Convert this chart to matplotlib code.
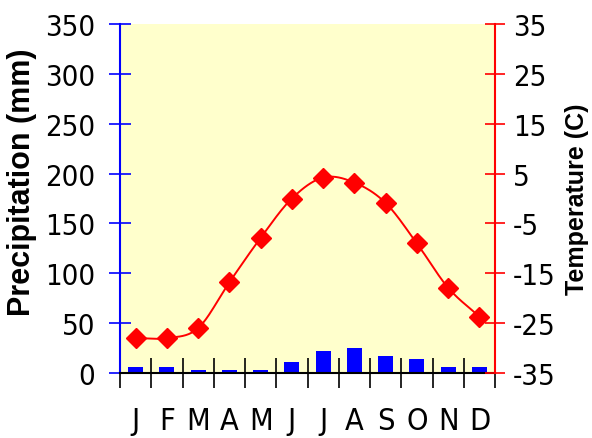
import numpy as np
import matplotlib
matplotlib.use("Agg")
import matplotlib.pyplot as plt

months = ["J", "F", "M", "A", "M", "J", "J", "A", "S", "O", "N", "D"]
precip_mm = [6, 6, 3, 3, 3, 11, 22, 25, 17, 14, 6, 6]
temp_c = [-28, -28, -26, -16.8, -7.9, 0, 4.2, 3.2, -0.9, -9, -17.9, -23.7]

plt.rcParams["axes.unicode_minus"] = False


def smooth(x, y, n=20):
    # catmull-rom through the points, like a spreadsheet "smoothed line"
    x = np.asarray(x, float)
    y = np.asarray(y, float)
    px = np.concatenate([[2 * x[0] - x[1]], x, [2 * x[-1] - x[-2]]])
    py = np.concatenate([[2 * y[0] - y[1]], y, [2 * y[-1] - y[-2]]])
    t = np.linspace(0, 1, n, endpoint=False)
    xs, ys = [], []
    for i in range(1, len(px) - 2):
        for p, out in ((px, xs), (py, ys)):
            p0, p1, p2, p3 = p[i - 1], p[i], p[i + 1], p[i + 2]
            out.extend(0.5 * (2 * p1 + (-p0 + p2) * t
                              + (2 * p0 - 5 * p1 + 4 * p2 - p3) * t ** 2
                              + (-p0 + 3 * p1 - 3 * p2 + p3) * t ** 3))
    xs.append(x[-1])
    ys.append(y[-1])
    return np.array(xs), np.array(ys)


tick_font = ["DejaVu Sans"]
label_font = ["Liberation Sans", "DejaVu Sans"]

fig = plt.figure(figsize=(5.92, 4.39), dpi=100)
ax = fig.add_axes([120 / 592, 1 - 374 / 439, 375 / 592, 349 / 439])
ax.set_facecolor("#ffffcc")

x = np.arange(len(months))
ax.bar(x, precip_mm, width=0.48, color="#0000ff", zorder=2)
ax.set_xlim(-0.5, 11.5)
ax.set_ylim(0, 350)
ax.set_yticks(np.arange(0, 351, 50))

# month letters under the bars, tick marks at the boundaries
ax.set_xticks(np.arange(-0.5, 12, 1))
ax.set_xticklabels([])
ax.set_xticks(x, minor=True)
ax.set_xticklabels(months, minor=True, fontsize=22, family=tick_font, fontstretch="condensed")
ax.tick_params(axis="x", which="major", direction="inout", length=22, width=1.2, color="black")
ax.tick_params(axis="x", which="minor", length=0, pad=24)

ax.tick_params(axis="y", direction="inout", length=16, width=1.2, color="#0000ff",
               labelsize=21, pad=10)
for lab in ax.get_yticklabels():
    lab.set_family(tick_font)
    lab.set_fontstretch("condensed")

ax.spines["top"].set_visible(False)
ax.spines["right"].set_visible(False)
ax.spines["left"].set_color("#0000ff")
ax.spines["left"].set_linewidth(1.5)
ax.spines["bottom"].set_color("black")
ax.spines["bottom"].set_linewidth(1.5)
ax.set_ylabel("Precipitation (mm)", fontsize=22, fontweight="bold", family=label_font)
ax.yaxis.set_label_coords(-0.222, 0.55)

ax2 = ax.twinx()
ax2.set_ylim(-35, 35)
ax2.set_yticks(np.arange(-35, 36, 10))
sx, sy = smooth(x, temp_c)
ax2.plot(sx, sy, color="#ff0000", lw=1.4, zorder=3)
ax2.plot(x, temp_c, ls="none", marker="D", ms=10, color="#ff0000", zorder=4)
for side in ("top", "left", "bottom"):
    ax2.spines[side].set_visible(False)
ax2.spines["right"].set_color("#ff0000")
ax2.spines["right"].set_linewidth(1.5)
ax2.tick_params(axis="y", direction="inout", length=14, width=1.2, color="#ff0000",
                labelsize=21, pad=6)
for lab in ax2.get_yticklabels():
    lab.set_family(tick_font)
    lab.set_fontstretch("condensed")
ax2.set_ylabel("Temperature (C)", fontsize=18, fontweight="bold", family=label_font)
ax2.yaxis.set_label_coords(1.187, 0.5)

fig.savefig("out.png", dpi=100)
